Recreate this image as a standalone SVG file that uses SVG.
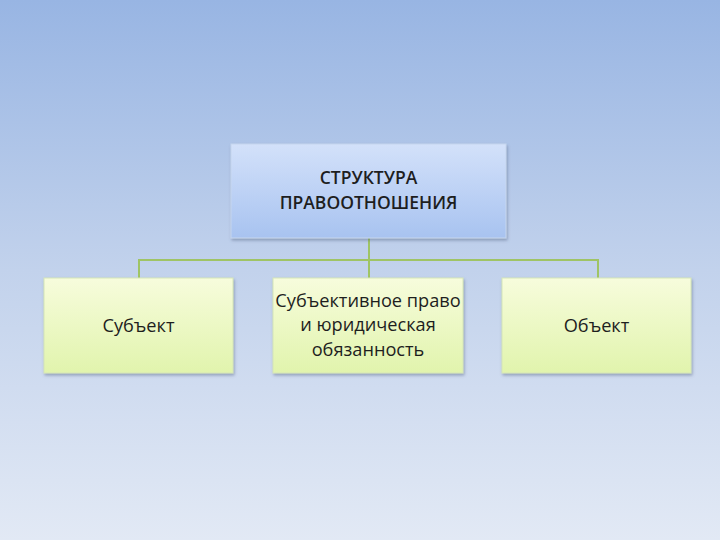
<svg xmlns="http://www.w3.org/2000/svg" width="720" height="540" viewBox="0 0 720 540">
<defs>
<linearGradient id="bg" x1="0" y1="0" x2="0" y2="1">
<stop offset="0" stop-color="#98b5e3"/>
<stop offset="0.5" stop-color="#c2d2ec"/>
<stop offset="1" stop-color="#e2e9f5"/>
</linearGradient>
<linearGradient id="blue" x1="0" y1="0" x2="0" y2="1">
<stop offset="0" stop-color="#d3e1fa"/>
<stop offset="1" stop-color="#a8c3f0"/>
</linearGradient>
<linearGradient id="green" x1="0" y1="0" x2="0" y2="1">
<stop offset="0" stop-color="#f7fcdc"/>
<stop offset="1" stop-color="#e1f4ad"/>
</linearGradient>
<filter id="sh" x="-10%" y="-10%" width="120%" height="130%">
<feDropShadow dx="1" dy="2" stdDeviation="1.5" flood-color="#4a5a78" flood-opacity="0.45"/>
</filter>
</defs>
<style>
.top{fill:url(#blue);stroke:#c6d6ee;stroke-width:1;filter:url(#sh)}
.box{fill:url(#green);stroke:#d6e6b8;stroke-width:1;filter:url(#sh)}
.t{font-family:"Open Sans","Noto Sans","Liberation Sans",sans-serif;fill:#1e1e1e;text-anchor:middle}
.title{font-size:17.5px;font-weight:600}
.lbl{font-size:18.2px}
.con{fill:none;stroke:#9fc465;stroke-width:2}
</style>
<rect width="720" height="540" fill="url(#bg)"/>
<g id="connectors">
<path class="con" d="M369 238 V260 M139 278 V260 H598 V278 M369 260 V278"/>
</g>
<g id="root">
<rect class="top" x="231" y="144" width="275" height="94"/>
<text class="t title" x="368.5" y="184">СТРУКТУРА</text>
<text class="t title" x="368.5" y="209">ПРАВООТНОШЕНИЯ</text>
</g>
<g id="subject">
<rect class="box" x="44" y="278" width="189" height="95"/>
<text class="t lbl" x="138.5" y="332">Субъект</text>
</g>
<g id="right-duty">
<rect class="box" x="273" y="278" width="190" height="95"/>
<text class="t lbl" x="368" y="307">Субъективное право</text>
<text class="t lbl" x="368" y="331">и юридическая</text>
<text class="t lbl" x="368" y="356">обязанность</text>
</g>
<g id="object">
<rect class="box" x="502" y="278" width="189" height="95"/>
<text class="t lbl" x="596.5" y="332">Объект</text>
</g>
</svg>
